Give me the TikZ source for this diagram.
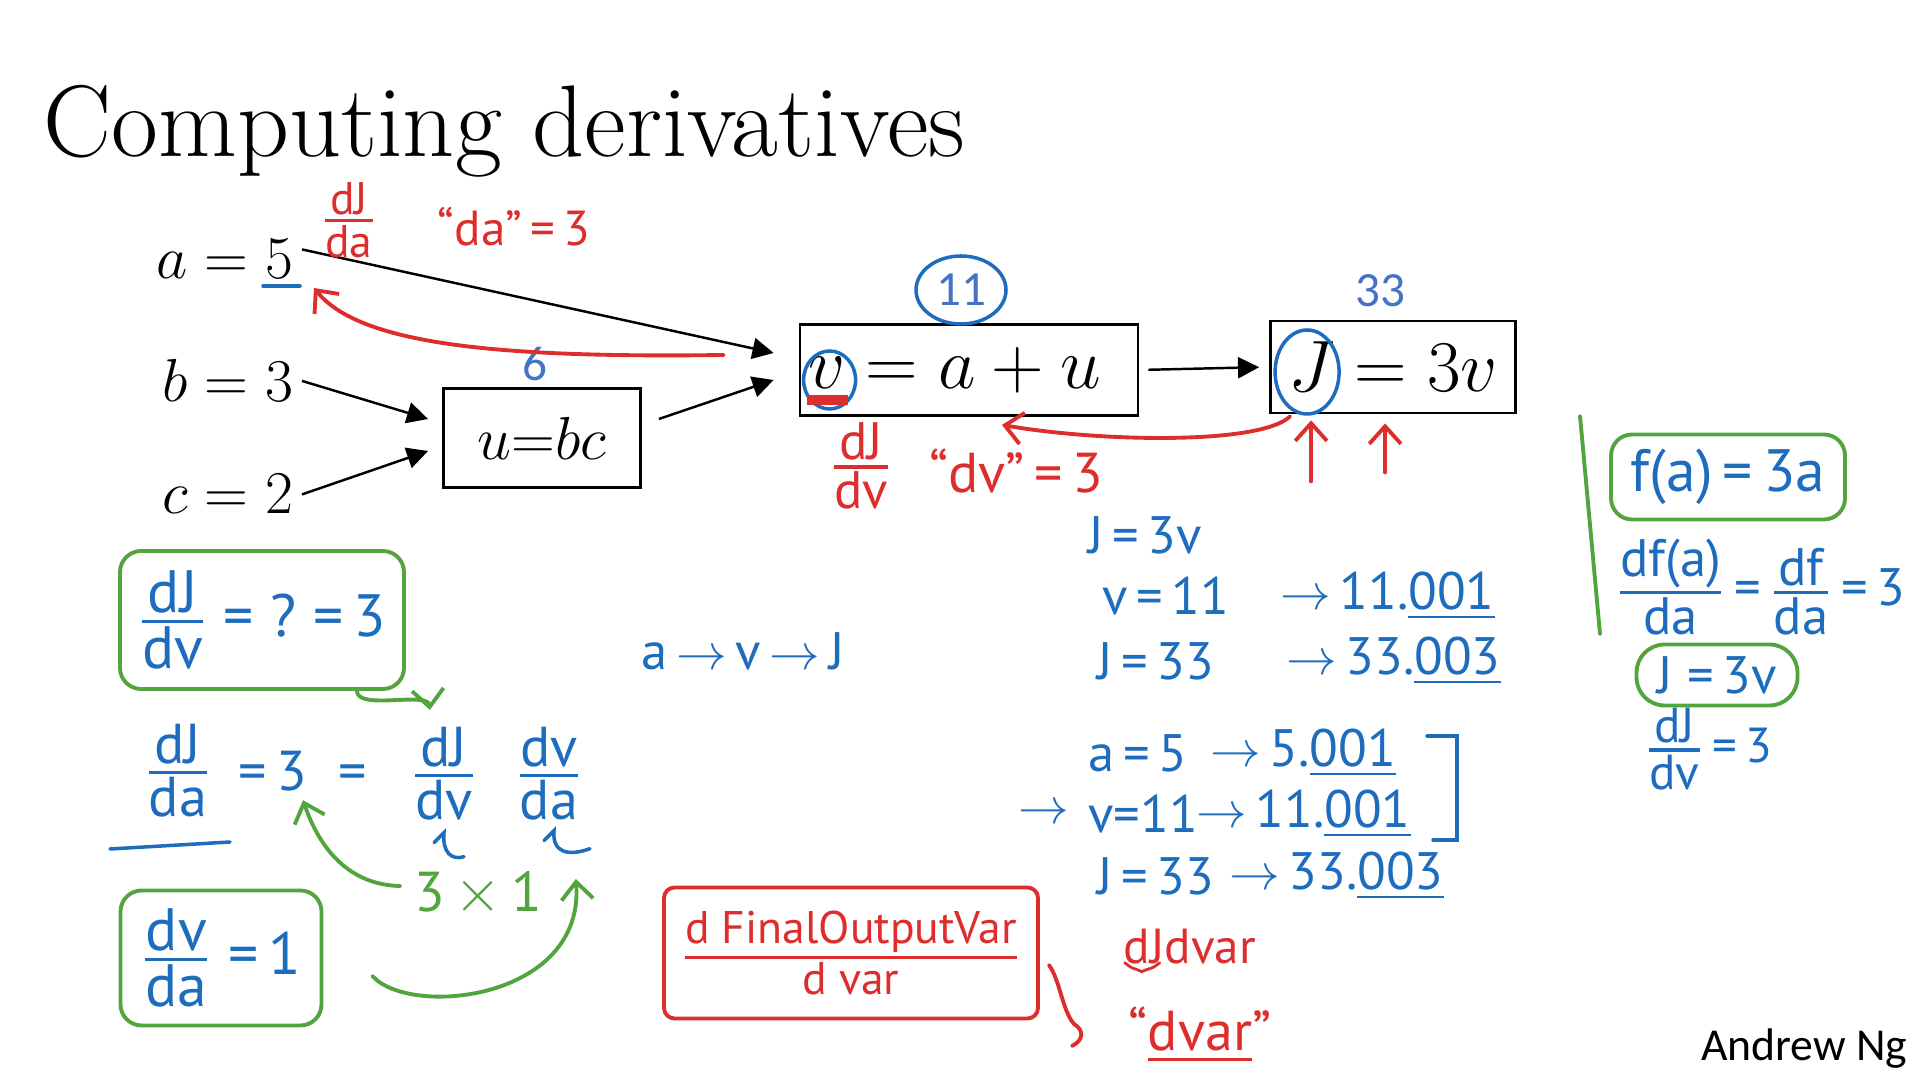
\documentclass[tikz,border=0pt]{standalone}
\usepackage{amsmath,amssymb}
\usepackage{fontspec}
\newfontfamily\handfont{PT Sans}
\newfontfamily\calibri{Carlito}
\usetikzlibrary{calc,arrows.meta,shapes.geometric,positioning}
\definecolor{inkblue}{RGB}{30,108,190}
\definecolor{inkred}{RGB}{222,45,45}
\definecolor{inkgreen}{RGB}{82,165,62}
\definecolor{valueblue}{RGB}{68,114,196}
\newcommand{\hf}[2]{$\genfrac{}{}{0.9pt}{1}{\mbox{#1}}{\mbox{#2}}$}
\tikzset{
    % Computation graph boxes (black frame)
    compbox/.style={
        draw=black, line width=0.8pt, inner sep=0pt,
        font=\fontsize{20}{24}\selectfont
    },
    % Input variables on the left
    inputvar/.style={anchor=base east, inner sep=0pt, font=\fontsize{17}{20}\selectfont},
    % Forward values written above the boxes
    fwdvalue/.style={text=valueblue, inner sep=0pt, font=\calibri\fontsize{14}{16}\selectfont},
    fwdarrow/.style={-{Triangle[length=6pt,width=6pt]}, line width=0.7pt},
    % Handwritten ink
    bluehand/.style={text=inkblue, inner sep=1pt, font=\handfont\fontsize{15}{18}\selectfont},
    bighand/.style={bluehand, font=\handfont\fontsize{16}{19}\selectfont},
    redhand/.style={text=inkred, inner sep=1pt, font=\handfont\fontsize{15}{18}\selectfont},
    greenhand/.style={text=inkgreen, inner sep=1pt, font=\handfont\fontsize{16}{18}\selectfont},
    bluepen/.style={draw=inkblue, line width=1pt, line cap=round},
    redpen/.style={draw=inkred, line width=1.1pt, line cap=round},
    greenpen/.style={draw=inkgreen, line width=1.1pt, line cap=round},
    inkarrow/.style={-{Straight Barb[length=5pt,width=9pt]}},
    greenbox/.style={
        draw=inkgreen, line width=1.1pt, rounded corners=6pt,
        text=inkblue, inner sep=2pt, font=\handfont\fontsize{17}{20}\selectfont
    },
}
\begin{document}
\begin{tikzpicture}
\useasboundingbox (0,0) rectangle (19.2,10.8);
\node[anchor=base west, inner sep=0pt, font=\fontsize{29}{33}\selectfont] (title) at (0.43,9.23) {Computing derivatives};

% computation graph
\node[inputvar] (a5) at (2.94,8.01) {$a = 5$};
\node[inputvar] (b3) at (2.94,6.78) {$b = 3$};
\node[inputvar] (c2) at (2.94,5.66) {$c = 2$};
\node[compbox, minimum width=1.97cm, minimum height=0.99cm, font=\fontsize{19}{22}\selectfont] (ubox) at (5.42,6.42) {$u{=}bc$};
\node[compbox, minimum height=0.91cm, text width=3.22cm, inner xsep=0.08cm, align=left] (vbox) at (9.69,7.10) {$v = a + u$};
\node[compbox, minimum width=2.45cm, minimum height=0.92cm] (jbox) at (13.93,7.13) {$J = 3v$};
\draw[fwdarrow] ([xshift=0.8mm,yshift=1mm]a5.east) -- ([xshift=-2.5mm,yshift=1.7mm]vbox.west);
\draw[fwdarrow] ([xshift=0.8mm]b3.east) -- ([xshift=-1.4mm,yshift=1.9mm]ubox.west);
\draw[fwdarrow] ([xshift=0.8mm]c2.east) -- ([xshift=-1.4mm,yshift=-1.3mm]ubox.west);
\draw[fwdarrow] ([xshift=1.7mm,yshift=1.9mm]ubox.east) -- ([xshift=-2.5mm,yshift=-1mm]vbox.west);
\draw[fwdarrow, shorten <=0.9mm, shorten >=1mm] (vbox.east) -- (jbox.west);

% forward values
\node[fwdvalue] (n6) at (5.35,7.16) {6};
\node[fwdvalue, ellipse, draw=inkblue, line width=1pt, minimum width=0.9cm, minimum height=0.68cm] (n11) at (9.61,7.90) {11};
\node[fwdvalue] (n33) at (13.80,7.89) {33};
\draw[bluepen] ($(a5.base east)+(-0.31,-0.07)$) -- ($(a5.base east)+(0.06,-0.07)$);
\draw[bluepen] ($(vbox.west)+(0.31,-0.10)$) ellipse (0.26 and 0.29);
\draw[bluepen] ($(jbox.west)+(0.38,-0.05)$) ellipse (0.32 and 0.42);
\draw[draw=inkred, line width=3pt] ($(vbox.west)+(0.08,-0.30)$) -- ($(vbox.west)+(0.49,-0.30)$);

% backward pass (red)
\draw[redpen, inkarrow] ($(vbox.west)+(-0.75,0.15)$) .. controls (5.0,7.22) and (3.6,7.35) .. ($(a5.base east)+(0.20,-0.09)$);
\draw[redpen, inkarrow] ($(jbox.south west)+(0.21,-0.02)$) .. controls (12.6,6.35) and (11.0,6.38) .. ($(vbox.south)+(0.33,-0.08)$);
\draw[redpen, inkarrow] ($(jbox.south west)+(0.42,-0.67)$) -- ($(jbox.south west)+(0.42,-0.06)$);
\draw[redpen, inkarrow] ($(jbox.south west)+(1.16,-0.58)$) -- ($(jbox.south west)+(1.16,-0.09)$);
\node[redhand, font=\handfont\fontsize{13}{15}\selectfont] (djdatop) at (3.49,8.60) {\hf{dJ}{da}};
\node[redhand, font=\handfont\fontsize{14}{16}\selectfont] (dastr) at (5.14,8.53) {“da”\,=\,3};
\node[redhand] (djdvred) at (8.61,6.14) {\hf{dJ}{dv}};
\node[redhand, font=\handfont\fontsize{16}{18}\selectfont] (dvstr) at (10.16,6.09) {“dv”\,=\,3};

% nudging v and J
\node[bluehand, anchor=west] (jdef) at (10.84,5.45) {J\,=\,3v};
\node[bluehand, anchor=west] (vrow) at (10.98,4.84) {v\,=\,11};
\node[bluehand, anchor=west] (vnudge) at (12.76,4.84) {$\rightarrow$\,11.\underline{001}};
\node[bluehand, anchor=west] (jrow) at (10.93,4.19) {J\,=\,33};
\node[bluehand, anchor=west] (jnudge) at (12.82,4.19) {$\rightarrow$\,33.\underline{003}};
\node[bluehand, anchor=west] (chain) at (6.37,4.29) {a\,$\rightarrow$\,v\,$\rightarrow$\,J};

% nudging a
\node[bluehand, anchor=west] (arow) at (10.84,3.27) {a\,=\,5};
\node[bluehand, anchor=west] (anudge) at (12.06,3.27) {$\rightarrow$\,5.\underline{001}};
\node[bluehand, anchor=west] (varrow) at (10.14,2.66) {$\rightarrow$};
\node[bluehand, anchor=west] (vrow2) at (10.84,2.66) {v=11};
\node[bluehand, anchor=west] (vnudge2) at (11.92,2.66) {$\rightarrow$\,11.\underline{001}};
\node[bluehand, anchor=west] (jrow2) at (10.93,2.04) {J\,=\,33};
\node[bluehand, anchor=west] (jnudge2) at (12.25,2.04) {$\rightarrow$\,33.\underline{003}};
\draw[bluepen] (14.27,3.44) -- (14.57,3.44) -- (14.57,2.40) -- (14.33,2.40);

% f(a) = 3a aside
\draw[greenpen] (15.80,6.64) -- (16.00,4.46);
\node[greenbox, minimum width=2.34cm, minimum height=0.85cm] (fbox) at (17.28,6.03) {f(a)\,=\,3a};
\node[bluehand, anchor=west] (dfda) at (16.12,4.93) {\hf{df(a)}{da}\,=\,\hf{df}{da}\,=\,3};
\node[greenbox, minimum width=1.61cm, minimum height=0.61cm, rounded corners=8pt, font=\handfont\fontsize{15}{18}\selectfont] (jv) at (17.17,4.05) {J\;=\,3v};
\node[bluehand, anchor=west, font=\handfont\fontsize{14}{16}\selectfont] (djdvside) at (16.41,3.31) {\hf{dJ}{dv}\,=\,3};

% chain rule
\node[greenbox, minimum width=2.84cm, minimum height=1.38cm] (qbox) at (2.62,4.60) {\hf{dJ}{dv}\;=\;?\;=\,3};
\node[bighand] (djda) at (1.78,3.09) {\hf{dJ}{da}};
\node[bighand] (eqthree) at (3.03,3.09) {=\,3\;\;=};
\node[bighand] (djdv) at (4.44,3.06) {\hf{dJ}{dv}};
\node[bighand] (dvda) at (5.49,3.06) {\hf{dv}{da}};
\draw[bluepen] (1.10,2.31) -- (2.30,2.38);
\coordinate (hookA) at ($(djdv.south)+(0.0,-0.08)$);
\coordinate (hookB) at ($(dvda.south)+(0.05,-0.06)$);
\draw[bluepen] ($(hookA)+(-0.1,-0.10)$) -- (hookA) .. controls ($(hookA)+(-0.02,-0.20)$) and ($(hookA)+(0.08,-0.28)$) .. ($(hookA)+(0.20,-0.24)$);
\draw[bluepen] ($(hookB)+(-0.1,-0.10)$) -- (hookB) .. controls ($(hookB)+(-0.02,-0.22)$) and ($(hookB)+(0.14,-0.26)$) .. ($(hookB)+(0.36,-0.18)$);
\draw[greenpen, inkarrow] ($(qbox.south east)+(-0.49,0)$) .. controls ($(qbox.south east)+(-0.49,-0.2)$) and ($(qbox.south east)+(0.22,0.0)$) .. ($(qbox.south east)+(0.24,-0.19)$);
\node[greenhand] (threexone) at (4.78,1.86) {3\,$\times$\,1};
\node[greenbox, minimum width=2.01cm, minimum height=1.35cm] (dvbox) at (2.21,1.22) {\hf{dv}{da}\;=\,1};
\draw[greenpen, inkarrow] ($(threexone.west)+(-0.10,0.08)$) .. controls (3.5,1.95) and (3.2,2.3) .. ($(eqthree.south)+(0.0,-0.05)$);
\draw[greenpen, inkarrow] ($(dvbox.east)+(0.49,-0.18)$) .. controls (4.1,0.62) and (5.85,0.8) .. ($(threexone.east)+(0.30,0.15)$);

% notation for code
\node[draw=inkred, line width=1.1pt, rounded corners=3pt, minimum width=3.74cm, minimum height=1.31cm, redhand, font=\handfont\fontsize{13}{15}\selectfont] (finalbox) at (8.51,1.27) {\hf{d FinalOutputVar}{d var}};
\draw[redpen] ($(finalbox.east)+(0.09,-0.12)$) .. controls (10.60,1.00) and (10.62,0.70) .. (10.74,0.56) .. controls (10.84,0.50) and (10.84,0.40) .. (10.72,0.34);
\node[redhand, font=\handfont\fontsize{14}{16}\selectfont] (djdvar) at (11.90,1.33) {dJdvar};
\draw[redpen, line width=0.8pt] ($(djdvar.south west)+(0.05,0.06)$) .. controls +(0.1,-0.08) and +(-0.1,0.05) .. ($(djdvar.south west)+(0.22,-0.03)$) .. controls +(0.1,0.05) and +(-0.1,-0.08) .. ($(djdvar.south west)+(0.40,0.06)$);
\node[redhand, font=\handfont\fontsize{16}{18}\selectfont] (dvarstr) at (12.00,0.45) {“\underline{dvar}”};

\node[anchor=east, inner sep=0pt, font=\calibri\fontsize{13}{15}\selectfont] (author) at (19.08,0.31) {Andrew Ng};
\end{tikzpicture}
\end{document}
